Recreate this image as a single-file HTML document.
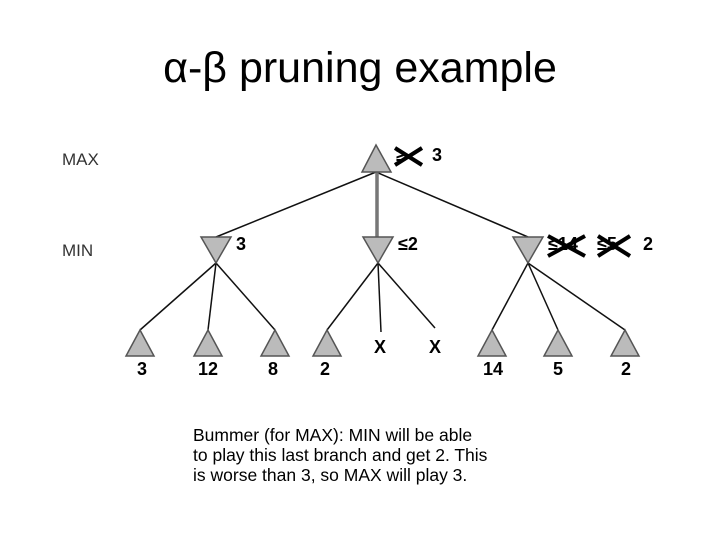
<!DOCTYPE html>
<html><head><style>
body{margin:0;width:720px;height:540px;background:#fff;position:relative;overflow:hidden;font-family:"Liberation Sans",Arial,sans-serif}
.t{position:absolute;left:0;width:720px;text-align:center;top:44px;font-size:43px;color:#000}
.c{position:absolute;left:193px;top:425px;font-size:17.5px;line-height:20px;color:#000}
</style></head><body>
<div class="t">α-β pruning example</div>
<svg width="720" height="540" style="position:absolute;left:0;top:0" font-family="Liberation Sans, Arial, sans-serif">
<text x="62" y="165" font-size="17" fill="#333">MAX</text>
<text x="62" y="256" font-size="17" fill="#333">MIN</text>
<g stroke="#111" stroke-width="1.5">
<line x1="376" y1="172" x2="216" y2="237"/>
<line x1="376" y1="172" x2="528" y2="237"/>
<line x1="216" y1="263" x2="140" y2="330"/>
<line x1="216" y1="263" x2="208" y2="330"/>
<line x1="216" y1="263" x2="275" y2="330"/>
<line x1="378" y1="263" x2="327" y2="330"/>
<line x1="378" y1="263" x2="381" y2="332"/>
<line x1="378" y1="263" x2="435" y2="328"/>
<line x1="528" y1="263" x2="492" y2="330"/>
<line x1="528" y1="263" x2="558" y2="330"/>
<line x1="528" y1="263" x2="625" y2="330"/>
</g>
<line x1="377" y1="172" x2="377" y2="237" stroke="#777" stroke-width="3.5"/>
<g fill="#bbb" stroke="#555" stroke-width="1.5">
<polygon points="376,145 362,172 391,172"/>
<polygon points="201,237 231,237 216,263"/>
<polygon points="363,237 393,237 378,263"/>
<polygon points="513,237 543,237 528,263"/>
<polygon points="140,330 126,356 154,356"/>
<polygon points="208,330 194,356 222,356"/>
<polygon points="275,330 261,356 289,356"/>
<polygon points="327,330 313,356 341,356"/>
<polygon points="492,330 478,356 506,356"/>
<polygon points="558,330 544,356 572,356"/>
<polygon points="625,330 611,356 639,356"/>
</g>
<g font-size="18" font-weight="bold" fill="#000">
<text x="137" y="375">3</text><text x="198" y="375">12</text><text x="268" y="375">8</text><text x="320" y="375">2</text>
<text x="483" y="375">14</text><text x="553" y="375">5</text><text x="621" y="375">2</text>
<text x="374" y="353">X</text><text x="429" y="353">X</text>
<text x="236" y="250">3</text>
<text x="398" y="250">≤2</text>
<text x="432" y="161">3</text>
<text x="643" y="250">2</text>
<text x="548" y="250">≤14</text><text x="597" y="250">≤5</text>
<text x="396" y="161">≥</text>
</g>
<g stroke="#000" stroke-width="4">
<line x1="395" y1="148" x2="422" y2="165"/><line x1="395" y1="165" x2="422" y2="148"/>
<line x1="548" y1="236" x2="585" y2="256"/><line x1="548" y1="256" x2="585" y2="236"/>
<line x1="598" y1="236" x2="630" y2="256"/><line x1="598" y1="256" x2="630" y2="236"/>
</g>
</svg>
<div class="c">Bummer (for MAX): MIN will be able<br>to play this last branch and get 2. This<br>is worse than 3, so MAX will play 3.</div>
</body></html>
